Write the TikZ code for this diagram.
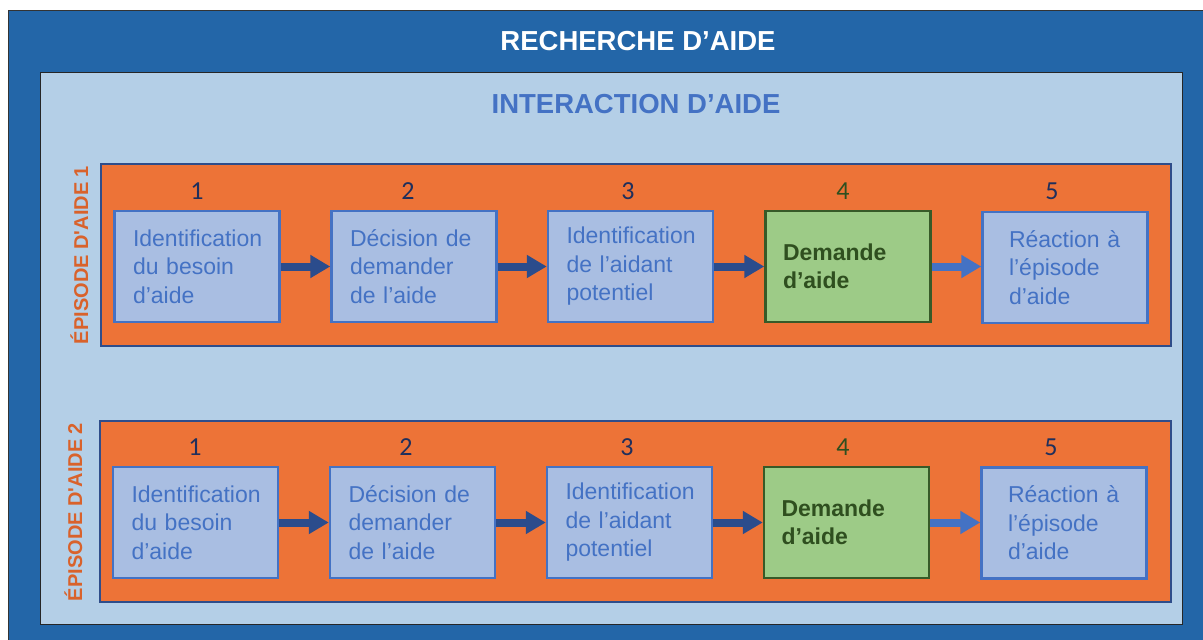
\documentclass[tikz,border=0pt]{standalone}
\usepackage{fontspec}
\setmainfont{Liberation Sans}
\newfontfamily\numfont{Carlito}
\usetikzlibrary{arrows.meta}
\definecolor{outerblue}{HTML}{2366A8}
\definecolor{lightbg}{HTML}{B4CFE7}
\definecolor{orangebg}{HTML}{ED7337}
\definecolor{orangeborder}{HTML}{2F4D8A}
\definecolor{boxfill}{HTML}{A9BEE2}
\definecolor{boxborder}{HTML}{4472C4}
\definecolor{txtblue}{HTML}{4472C4}
\definecolor{greenfill}{HTML}{9DCB87}
\definecolor{greenborder}{HTML}{375A28}
\definecolor{greentext}{HTML}{2F4F1F}
\definecolor{navy}{HTML}{1F2F5C}
\definecolor{arrowdark}{HTML}{2B4C8C}
\definecolor{labelorange}{HTML}{D9622B}
\tikzset{
  stepbox/.style={draw=boxborder, line width=2.5pt, fill=boxfill, minimum height=111pt,
    text width=128pt, inner xsep=18.5pt, align=left, text=txtblue,
    font=\fontsize{23}{28.5}\selectfont},
  lastbox/.style={stepbox, text width=112pt, inner xsep=26.5pt},
  greenbox/.style={draw=greenborder, line width=2.5pt, fill=greenfill, minimum height=111pt,
    text width=130pt, inner xsep=17.5pt, align=left, text=greentext,
    font=\bfseries\fontsize{23}{28.5}\selectfont},
  numlabel/.style={anchor=base, text=navy, font=\numfont\fontsize{26}{26}\selectfont, inner sep=0pt},
  episode/.style={draw=orangeborder, line width=2pt, fill=orangebg, inner sep=0pt},
  darrow/.style={draw=arrowdark, line width=8pt, -{Triangle[length=20pt,width=22pt]}},
  larrow/.style={draw=boxborder, line width=8pt, -{Triangle[length=20pt,width=22pt]}},
  vlabel/.style={rotate=90, anchor=base, text=labelorange, font=\bfseries\fontsize{20}{20}\selectfont, inner sep=0pt},
}
\begin{document}
\begin{tikzpicture}[x=1pt,y=-1pt]
\useasboundingbox (0,0) rectangle (1203,640);
\clip (0,0) rectangle (1203,640);
\fill[white] (0,0) rectangle (1203,640);
\draw[fill=outerblue, draw=black!80, line width=1pt] (8,10) rectangle (1230,680);
\node (title) [text=white, font=\bfseries\fontsize{27.5}{27.5}\selectfont] at (638,41) {RECHERCHE D’AIDE};
\node (inner) [draw=black!85, line width=1pt, fill=lightbg, minimum width=1142pt, minimum height=552pt, inner sep=0pt] at (611,348) {};
\node (subtitle) [text=txtblue, font=\bfseries\fontsize{27.5}{27.5}\selectfont] at (636,104) {INTERACTION D’AIDE};

% Episode 1
\node (ep1) [episode, minimum width=1070pt, minimum height=182pt] at (636,255) {};
\node (lab1) [vlabel] at (88,255) {ÉPISODE D\textquotesingle AIDE 1};
\node (a1) [stepbox] at (197,266.5) {Identification\\du besoin\\d’aide};
\node (a2) [stepbox] at (414,266.5) {Décision de\\demander\\de l’aide};
\node (a3) [stepbox] at (630.5,266.5) {Identification\\de l’aidant\\potentiel};
\node (a4) [greenbox] at (848,266.5) {Demande\\d’aide};
\node (a5) [lastbox] at (1065,267.5) {Réaction à\\l’épisode\\d’aide};
\node (n11) [numlabel] at (197,199) {1};
\node (n12) [numlabel] at (408,199) {2};
\node (n13) [numlabel] at (628,199) {3};
\node (n14) [numlabel, text=greentext] at (843,199) {4};
\node (n15) [numlabel] at (1052,199) {5};
\draw[darrow] (a1.east) -- (a2.west);
\draw[darrow] (a2.east) -- (a3.west);
\draw[darrow] (a3.east) -- (a4.west);
\draw[larrow] (a4.east) -- (a5.west |- a4.east);

% Episode 2
\node (ep2) [episode, minimum width=1071pt, minimum height=181pt] at (635.5,511.5) {};
\node (lab2) [vlabel] at (82,512) {ÉPISODE D\textquotesingle AIDE 2};
\node (b1) [stepbox] at (195.5,522.5) {Identification\\du besoin\\d’aide};
\node (b2) [stepbox] at (412.5,522.5) {Décision de\\demander\\de l’aide};
\node (b3) [stepbox] at (629.5,522.5) {Identification\\de l’aidant\\potentiel};
\node (b4) [greenbox] at (846.5,522.5) {Demande\\d’aide};
\node (b5) [lastbox] at (1064,523) {Réaction à\\l’épisode\\d’aide};
\node (n21) [numlabel] at (195,455) {1};
\node (n22) [numlabel] at (406,455) {2};
\node (n23) [numlabel] at (627,455) {3};
\node (n24) [numlabel, text=greentext] at (843,455) {4};
\node (n25) [numlabel] at (1051,455) {5};
\draw[darrow] (b1.east) -- (b2.west);
\draw[darrow] (b2.east) -- (b3.west);
\draw[darrow] (b3.east) -- (b4.west);
\draw[larrow] (b4.east) -- (b5.west |- b4.east);
\end{tikzpicture}
\end{document}
